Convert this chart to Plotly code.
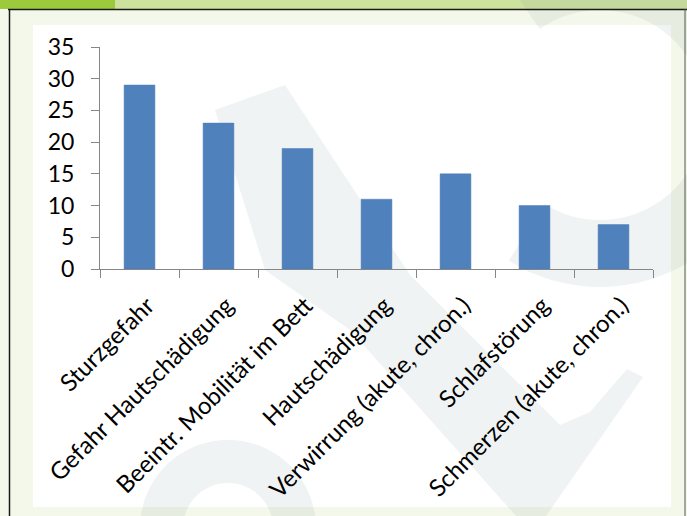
import math
import plotly.graph_objects as go

categories = ["Sturzgefahr", "Gefahr Hautschädigung", "Beeintr. Mobilität im Bett",
              "Hautschädigung", "Verwirrung (akute, chron.)", "Schlafstörung",
              "Schmerzen (akute, chron.)"]
values = [29, 23, 19, 11, 15, 10, 7]
y_ticks = [0, 5, 10, 15, 20, 25, 30, 35]

W, H = 687, 516
PL, PR, PT, PB = 100, 653, 47, 269


def px(x):
    return (x - PL) / (PR - PL)


def py(y):
    return (PB - y) / (PB - PT)


def rect(x0, y0, x1, y1, color, layer="below"):
    return dict(type="rect", xref="paper", yref="paper", x0=px(x0), x1=px(x1),
                y0=py(y1), y1=py(y0), fillcolor=color, line=dict(width=0), layer=layer)


def line(x0, y0, x1, y1, color, width, layer="below"):
    return dict(type="line", xref="paper", yref="paper", x0=px(x0), x1=px(x1),
                y0=py(y0), y1=py(y1), line=dict(color=color, width=width), layer=layer)


def poly(points, color):
    d = "M " + " L ".join(f"{px(x):.4f},{py(y):.4f}" for x, y in points) + " Z"
    return dict(type="path", xref="paper", yref="paper", path=d, fillcolor=color,
                line=dict(width=0), layer="below")


def ring(cx, cy, r_in, r_out, a0, a1, n=60):
    pts = []
    for i in range(n + 1):
        a = math.radians(a0 + (a1 - a0) * i / n)
        pts.append((cx + r_out * math.cos(a), cy + r_out * math.sin(a)))
    for i in range(n + 1):
        a = math.radians(a1 - (a1 - a0) * i / n)
        pts.append((cx + r_in * math.cos(a), cy + r_in * math.sin(a)))
    return pts


wm = "rgba(140,160,160,0.13)"
shapes = [
    rect(0, 0, 115, 9, "#9BCB3C"),
    rect(115, 0, W, 9, "#CDE29D"),
    rect(33, 25, 671, 507, "#FFFFFF"),
    # watermark
    poly(ring(600, 115, 105, 172, -125, 122), wm),
    poly([(215, 110), (285, 85), (410, 275), (560, 425), (590, 412), (627, 369),
          (643, 377), (546, 516), (516, 516), (350, 330), (265, 270)], wm),
    poly(ring(228, 528, 45, 88, 180, 360), wm),
    # borders
    line(8, 9.5, W, 9.5, "#1a1a1a", 1.5),
    line(9.5, 9, 9.5, H, "#1a1a1a", 1.5),
    line(685, 9, 685, H, "#555555", 1),
]

fig = go.Figure(go.Bar(
    x=categories, y=values,
    marker=dict(color="#4F81BD", line=dict(color="#4A7AB5", width=0.5)),
))

font_family = "Lato, 'Open Sans', sans-serif"
fig.update_layout(
    width=W, height=H,
    margin=dict(l=PL, r=W - PR, t=PT, b=H - PB, autoexpand=False),
    paper_bgcolor="#F4F8EA",
    plot_bgcolor="rgba(0,0,0,0)",
    bargap=0.61,
    showlegend=False,
    shapes=shapes,
    font=dict(family=font_family, color="#000000"),
)
fig.update_xaxes(
    showline=True, linecolor="#868686", linewidth=1,
    ticks="outside", tickson="boundaries", ticklen=8, tickcolor="#868686",
    tickangle=-45, ticklabelstandoff=12, ticklabelshift=8,
    tickfont=dict(size=24, family=font_family, color="#000000"),
    showgrid=False, zeroline=False,
)
fig.update_yaxes(
    range=[0, 35], tickvals=y_ticks,
    showline=True, linecolor="#868686", linewidth=1,
    ticks="outside", ticklen=8, tickcolor="#868686",
    ticklabelstandoff=12,
    tickfont=dict(size=23, family=font_family, color="#000000"),
    showgrid=False, zeroline=False,
)

fig.write_html("out.html")
